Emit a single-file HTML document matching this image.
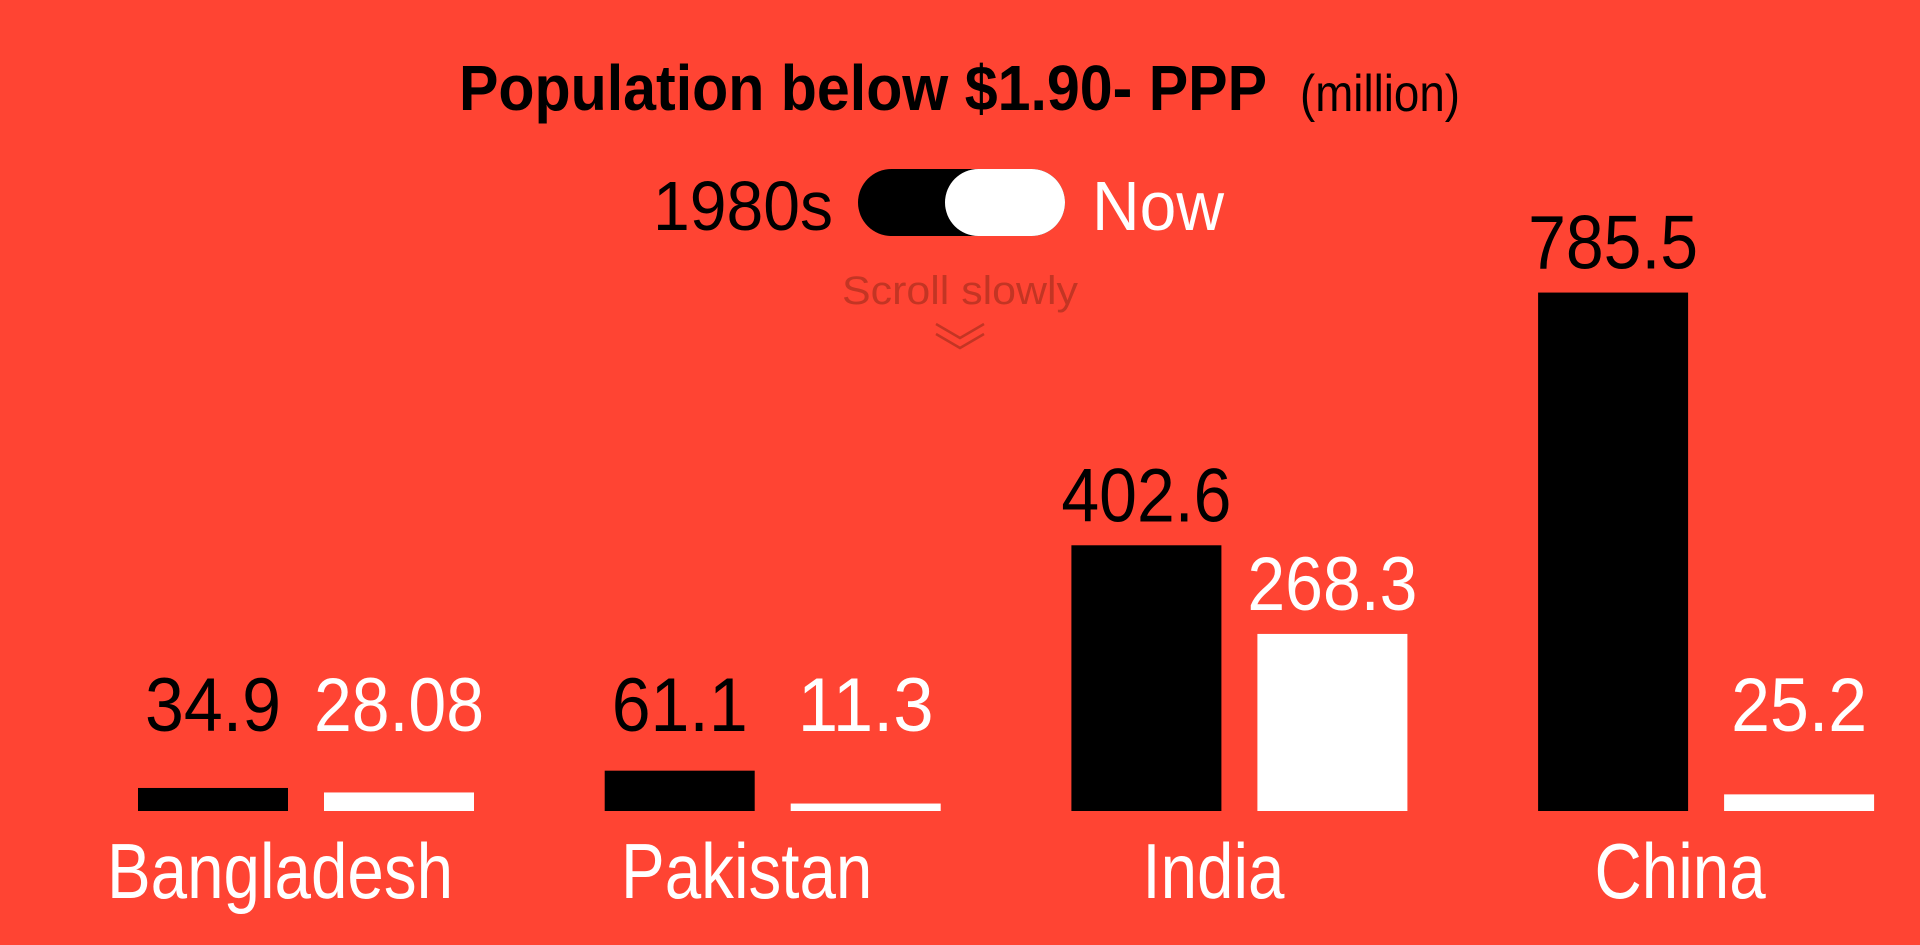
<!DOCTYPE html>
<html><head><meta charset="utf-8"><style>
html,body{margin:0;padding:0;background:#ff4433;}
svg{display:block;font-family:"Liberation Sans",sans-serif;}
</style></head><body>
<svg id="chart" width="1920" height="945" viewBox="0 0 1920 945">
<rect width="1920" height="945" fill="#ff4433"/>
<g>
<text x="459" y="110" font-size="64" font-weight="bold" fill="#000" textLength="808" lengthAdjust="spacingAndGlyphs">Population below $1.90- PPP</text>
<text x="1300" y="111" font-size="52" fill="#000" textLength="160" lengthAdjust="spacingAndGlyphs">(million)</text>
</g>
<g>
<text x="653" y="230" font-size="70" fill="#000" textLength="180" lengthAdjust="spacingAndGlyphs">1980s</text>
<rect x="858" y="169" width="207" height="67" rx="33.5" fill="#000"/>
<rect x="945" y="169" width="120" height="67" rx="33.5" fill="#fff"/>
<text x="1092" y="230" font-size="70" fill="#fff" textLength="132" lengthAdjust="spacingAndGlyphs">Now</text>
</g>
<text x="842" y="304" font-size="40" fill="#b0301f" opacity="0.75" textLength="236" lengthAdjust="spacingAndGlyphs">Scroll slowly</text>
<g fill="none" stroke="#b0301f" stroke-width="2.5" opacity="0.75">
<polyline points="936,324 960,338 984,324"/>
<polyline points="936,334 960,348 984,334"/>
</g>
<g id="bars"></g>
</svg>
<script>
const countries = ["Bangladesh", "Pakistan", "India", "China"];
const values1980s = [34.9, 61.1, 402.6, 785.5];
const valuesNow = [28.08, 11.3, 268.3, 25.2];
const labels1980s = ["34.9", "61.1", "402.6", "785.5"];
const labelsNow = ["28.08", "11.3", "268.3", "25.2"];

const NS = "http://www.w3.org/2000/svg";
const baseY = 811, pxPerUnit = 0.66, barW = 150;
function yScale(v){ return baseY - v * pxPerUnit; }
function xGroup(i){ return 138 + i * 466.7; }
const g = document.getElementById('bars');
function mk(tag, attrs){ const e = document.createElementNS(NS, tag); for (const k in attrs) e.setAttribute(k, attrs[k]); g.appendChild(e); return e; }
countries.forEach((c, i) => {
  const x0 = xGroup(i), x1 = x0 + 186;
  [[x0, values1980s[i], labels1980s[i], '#000', '1980s'], [x1, valuesNow[i], labelsNow[i], '#fff', 'now']].forEach(([x, v, lab, col, s]) => {
    const top = yScale(v);
    const r = mk('rect', {x: x, y: top, width: barW, height: baseY - top, fill: col});
    
    
    const t = mk('text', {x: x + barW / 2, y: Math.min(top - 24, 731), 'font-size': 76, fill: col, 'text-anchor': 'middle', textLength: lab.length * 34, lengthAdjust: 'spacingAndGlyphs'});
    t.textContent = lab;
    
    
  });
  const cl = mk('text', {x: (x0 + x1 + barW) / 2 - 26, y: 898, 'font-size': 78, fill: '#fff', 'text-anchor': 'middle'});
  cl.textContent = c;
  
  
  const w = cl.getComputedTextLength();
  cl.setAttribute('textLength', w * 0.84);
  cl.setAttribute('lengthAdjust', 'spacingAndGlyphs');
});
</script>
</body></html>
